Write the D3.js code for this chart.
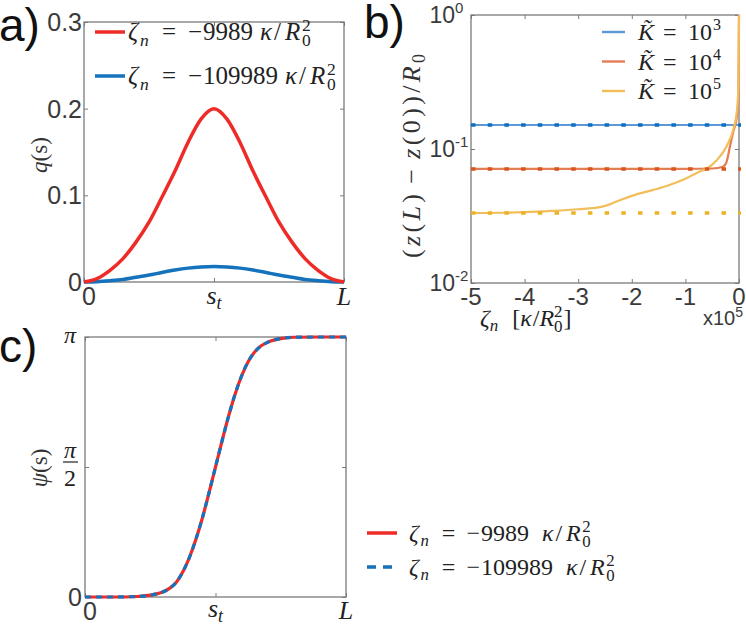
<!DOCTYPE html>
<html><head><meta charset="utf-8">
<script src="https://cdn.jsdelivr.net/npm/d3@7"></script>
<style>
body{margin:0;background:#fff} svg{display:block}
.sans{font-family:'Liberation Sans',Arial,sans-serif}
.serif{font-family:'Liberation Serif','Times New Roman',serif}
</style>
</head><body>
<svg id="c" width="746" height="625"></svg>
<script>
// ---------- data ----------
// panel a: q(s) on s in [0, L] (L = 1, s_t = 0.5)
const sGrid = [0,0.05,0.1,0.15,0.2,0.25,0.3,0.35,0.4,0.45,0.5,0.55,0.6,0.65,0.7,0.75,0.8,0.85,0.9,0.95,1];
const qRed  = [0,0.004,0.0135,0.027,0.046,0.069,0.098,0.128,0.161,0.188,0.2,0.188,0.161,0.128,0.098,0.069,0.046,0.027,0.0135,0.004,0];
const qBlue = [0,0.0004,0.0015,0.003,0.0055,0.008,0.011,0.0138,0.016,0.0174,0.018,0.0174,0.016,0.0138,0.011,0.008,0.0055,0.003,0.0015,0.0004,0];
const aYTicks = [0,0.1,0.2,0.3];
const aYLabels = ["0","0.1","0.2","0.3"];
const sTicks = [0,0.5,1];

// panel c: psi(s) / pi
const psiS   = [0,0.1,0.2,0.25,0.275,0.3,0.325,0.35,0.375,0.4,0.425,0.45,0.475,0.5,0.525,0.55,0.575,0.6,0.625,0.65,0.675,0.7,0.75,0.8,0.9,1];
const psiVal = [0,0,0.002,0.007,0.012,0.02,0.034,0.057,0.097,0.152,0.222,0.305,0.4,0.5,0.6,0.695,0.78,0.85,0.905,0.942,0.966,0.98,0.994,0.999,1,1];
const cYTicks = [0,0.5,1];

// panel b: (z(L)-z(0))/R0 vs zeta_n (x1e5)
const bXTicks = [-5,-4,-3,-2,-1,0];
const bYTicks = [0.01,0.1,1];
const bYExp = ["-2","-1","0"];
const kNames = ["3","4","5"];
const kLimit = [0.151,0.071,0.0333];
const k3X = [-5,0];
const k3Y = [0.151,0.151];
const k4X = [-5,-1,-0.5,-0.3,-0.23,-0.17,-0.106,-0.04,-0.01,0];
const k4Y = [0.071,0.071,0.0715,0.0738,0.0806,0.104,0.135,0.174,0.25,1];
const k5X = [-5,-4,-3.5,-3,-2.6,-2.4,-2.2,-2,-1.6,-1.35,-1,-0.73,-0.6,-0.42,-0.23,-0.106,-0.04,-0.01,0];
const k5Y = [0.0333,0.0338,0.0345,0.0355,0.0368,0.0388,0.0418,0.0447,0.0495,0.053,0.06,0.068,0.0715,0.082,0.105,0.14,0.19,0.3,1];

// ---------- helpers ----------
const svg = d3.select("#c");
const AX = "#7a7a7a", TXT = "#3a3a3a";

function frame(x, y) {
  const g = svg.append("g");
  const [x0,x1] = x.range(), [y0,y1] = y.range();
  const tick = (axis, tr) => {
    const a = g.append("g").attr("transform", tr).call(axis);
    a.select(".domain").remove();
    a.selectAll("line").attr("stroke", AX).attr("stroke-width", 1);
    a.selectAll("text").remove();
  };
  return {g, tick, box: () => g.append("rect").attr("x",x0).attr("y",y1).attr("width",x1-x0).attr("height",y0-y1)
    .attr("fill","none").attr("stroke",AX).attr("stroke-width",1.3)};
}
function sansText(x, y, s, size, anchor) {
  return svg.append("text").attr("class","sans").attr("x",x).attr("y",y).attr("font-size",size)
    .attr("fill",TXT).attr("text-anchor",anchor||"middle").text(s);
}
function zetaLegend(x0, y, num, size, gap) {
  const k = size/25, sm = size*0.7;
  const t = svg.append("text").attr("class","serif").attr("y",y).attr("font-size",size).attr("fill","#222");
  t.append("tspan").attr("x",x0).attr("font-style","italic").text("ζ");
  t.append("tspan").attr("x",x0+12*k).attr("font-style","italic").attr("font-size",sm).attr("dy",size*0.22).text("n");
  t.append("tspan").attr("x",x0+34*k).attr("dy",-size*0.22).text("=");
  t.append("tspan").attr("x",x0+60*k).text("−");
  t.append("tspan").attr("x",x0+75*k).text(num);
  const dEnd = x0 + 75*k + num.length*0.5*size;
  const kx = dEnd + gap;
  t.append("tspan").attr("x",kx).attr("font-style","italic").text("κ");
  t.append("tspan").attr("x",kx+14*k).text("/");
  t.append("tspan").attr("x",kx+25*k).attr("font-style","italic").text("R");
  t.append("tspan").attr("x",kx+42*k).attr("font-size",sm).attr("dy",size*0.25).text("0");
  t.append("tspan").attr("x",kx+42*k).attr("font-size",sm).attr("dy",-size*0.62).text("2");
  return t;
}
function sLabel(x, y) {
  const t = svg.append("text").attr("class","serif").attr("x",x).attr("y",y).attr("font-size",26)
    .attr("fill","#222").attr("text-anchor","middle");
  t.append("tspan").attr("font-style","italic").text("s");
  t.append("tspan").attr("font-style","italic").attr("font-size",18).attr("dy",5).text("t");
}
function italicL(x, y) {
  svg.append("text").attr("class","serif").attr("x",x).attr("y",y).attr("font-size",26)
    .attr("fill","#222").attr("text-anchor","middle").attr("font-style","italic").text("L");
}

// ---------- panel a ----------
{
  const x = d3.scaleLinear().domain([0,1]).range([84,344]);
  const y = d3.scaleLinear().domain([0,0.3]).range([282,22]);
  const f = frame(x, y);
  f.tick(d3.axisBottom(x).tickValues(sTicks).tickSize(-4), `translate(0,282)`);
  f.tick(d3.axisTop(x).tickValues(sTicks).tickSize(-4), `translate(0,22)`);
  f.tick(d3.axisLeft(y).tickValues(aYTicks).tickSize(-4), `translate(84,0)`);
  f.tick(d3.axisRight(y).tickValues(aYTicks).tickSize(-4), `translate(344,0)`);
  f.box();
  const line = d3.line().x((d,i)=>x(sGrid[i])).y(d=>y(d)).curve(d3.curveMonotoneX);
  svg.append("path").attr("d", line(qBlue)).attr("fill","none").attr("stroke","#1572bc").attr("stroke-width",3.5);
  svg.append("path").attr("d", line(qRed)).attr("fill","none").attr("stroke","#ee2b27").attr("stroke-width",3.5);
  aYTicks.forEach((v,i)=> sansText(82, y(v)+9, aYLabels[i], 25, "end"));
  sansText(x(0)+5, 305, "0", 25);
  sLabel(x(0.5), 304);
  italicL(x(1), 305);
  // legend
  [["#ee2b27","9989",32],["#1572bc","109989",76]].forEach(([c,n,yy])=>{
    svg.append("line").attr("x1",95).attr("x2",125).attr("y1",yy).attr("y2",yy).attr("stroke",c).attr("stroke-width",3.5);
    zetaLegend(128, yy+8, n, 25, 7);
  });
  // y label
  const t = svg.append("text").attr("class","serif").attr("transform","translate(47,155) rotate(-90)").attr("text-anchor","middle")
    .attr("font-size",23).attr("fill","#333");
  t.append("tspan").attr("font-style","italic").text("q");
  t.append("tspan").text("(s)");
  svg.append("text").attr("class","sans").attr("x",-1).attr("y",41).attr("font-size",46).attr("fill","#111").text("a)");
}

// ---------- panel b ----------
{
  const x = d3.scaleLinear().domain([-5,0]).range([471,739]);
  const y = d3.scaleLog().domain([0.01,1]).range([283,15]);
  const f = frame(x, y);
  f.tick(d3.axisBottom(x).tickValues(bXTicks).tickSize(-4), `translate(0,283)`);
  f.tick(d3.axisTop(x).tickValues(bXTicks).tickSize(-4), `translate(0,15)`);
  f.tick(d3.axisLeft(y).tickValues(bYTicks).tickSize(-4), `translate(471,0)`);
  f.tick(d3.axisRight(y).tickValues(bYTicks).tickSize(-4), `translate(739,0)`);
  f.box();
  const solid = ["#5e97d6","#e57d52","#f2be5a"];
  const dots  = ["#0b6fc0","#d9541e","#edb224"];
  const series = [[k3X,k3Y],[k4X,k4Y],[k5X,k5Y]];
  const line = d3.line().x(d=>x(d[0])).y(d=>y(d[1])).curve(d3.curveMonotoneX);
  series.forEach(([xs,ys],i)=>{
    svg.append("path").attr("d", line(xs.map((v,j)=>[v,ys[j]]))).attr("fill","none")
      .attr("stroke",solid[i]).attr("stroke-width",2.2);
  });
  kLimit.forEach((v,i)=>{
    svg.append("line").attr("x1",x(-5)).attr("x2",x(0)+2).attr("y1",y(v)).attr("y2",y(v))
      .attr("stroke",dots[i]).attr("stroke-width",3.4).attr("stroke-dasharray","4.5,12.2");
  });
  // tick labels
  bYTicks.forEach((v,i)=>{
    const yy = i===2 ? 23 : y(v)+8;
    svg.append("text").attr("class","sans").attr("x",455).attr("y",yy).attr("font-size",23)
      .attr("fill",TXT).attr("text-anchor","end").text("10");
    svg.append("text").attr("class","sans").attr("x",455).attr("y",yy-10).attr("font-size",15)
      .attr("fill",TXT).text(bYExp[i]);
  });
  bXTicks.forEach(v=> sansText(x(v), 305, String(v), 24));
  const ex = svg.append("text").attr("class","sans").attr("x",703).attr("y",325).attr("font-size",20).attr("fill",TXT).text("x10");
  ex.append("tspan").attr("font-size",14).attr("dy",-8).text("5");
  // x label
  const xl = svg.append("text").attr("class","serif").attr("x",480).attr("y",326).attr("font-size",24).attr("fill","#222");
  xl.append("tspan").attr("font-style","italic").text("ζ");
  xl.append("tspan").attr("font-style","italic").attr("font-size",17).attr("dy",5).text("n");
  xl.append("tspan").attr("dy",-5).attr("dx",14).text("[");
  xl.append("tspan").attr("font-style","italic").text("κ");
  xl.append("tspan").attr("dx",1).text("/");
  xl.append("tspan").attr("font-style","italic").text("R");
  xl.append("tspan").attr("font-size",17).attr("dy",6).text("0");
  xl.append("tspan").attr("font-size",17).attr("dx",-8.5).attr("dy",-15).text("2");
  xl.append("tspan").attr("dy",9).attr("dx",1).text("]");
  // y label
  const yl = svg.append("text").attr("class","serif").attr("transform","translate(420,156) rotate(-90)").attr("text-anchor","middle")
    .attr("font-size",26).attr("fill","#333").attr("textLength",204).attr("lengthAdjust","spacing");
  yl.append("tspan").text("(");
  yl.append("tspan").attr("font-style","italic").text("z");
  yl.append("tspan").text("(");
  yl.append("tspan").attr("font-style","italic").text("L");
  yl.append("tspan").text(")");
  yl.append("tspan").attr("dx",7).text("−");
  yl.append("tspan").attr("dx",7).attr("font-style","italic").text("z");
  yl.append("tspan").text("(0))/");
  yl.append("tspan").attr("font-style","italic").text("R");
  yl.append("tspan").attr("font-size",18).attr("dy",5).text("0");
  // legend
  kNames.forEach((k,i)=>{
    const yy = 32 + i*29.5;
    svg.append("line").attr("x1",602).attr("x2",625).attr("y1",yy).attr("y2",yy).attr("stroke",solid[i]).attr("stroke-width",2.4);
    const t = svg.append("text").attr("class","serif").attr("y",yy+8).attr("font-size",24).attr("fill","#222");
    t.append("tspan").attr("x",638).attr("font-style","italic").text("K\u0303");
    t.append("tspan").attr("x",663).text("=");
    t.append("tspan").attr("x",688).text("10");
    t.append("tspan").attr("x",713).attr("font-size",16).attr("dy",-10).text(k);
  });
  svg.append("text").attr("class","sans").attr("x",364).attr("y",38).attr("font-size",46).attr("fill","#111").text("b)");
}

// ---------- panel c ----------
{
  const x = d3.scaleLinear().domain([0,1]).range([85,346]);
  const y = d3.scaleLinear().domain([0,1]).range([597,337]);
  const f = frame(x, y);
  f.tick(d3.axisBottom(x).tickValues(sTicks).tickSize(-4), `translate(0,597)`);
  f.tick(d3.axisTop(x).tickValues(sTicks).tickSize(-4), `translate(0,337)`);
  f.tick(d3.axisLeft(y).tickValues(cYTicks).tickSize(-4), `translate(85,0)`);
  f.tick(d3.axisRight(y).tickValues(cYTicks).tickSize(-4), `translate(346,0)`);
  f.box();
  const line = d3.line().x((d,i)=>x(psiS[i])).y(d=>y(d)).curve(d3.curveMonotoneX);
  svg.append("path").attr("d", line(psiVal)).attr("fill","none").attr("stroke","#ee2b27").attr("stroke-width",3.2);
  svg.append("path").attr("d", line(psiVal)).attr("fill","none").attr("stroke","#1572bc").attr("stroke-width",3.2)
    .attr("stroke-dasharray","6,5");
  // y tick labels
  svg.append("text").attr("class","serif").attr("x",70).attr("y",y(1)+6).attr("font-size",24).attr("fill","#222")
    .attr("text-anchor","middle").attr("font-style","italic").text("π");
  svg.append("text").attr("class","serif").attr("x",70).attr("y",y(0.5)-9).attr("font-size",24).attr("fill","#222")
    .attr("text-anchor","middle").attr("font-style","italic").text("π");
  svg.append("line").attr("x1",63).attr("x2",78).attr("y1",y(0.5)-5).attr("y2",y(0.5)-5).attr("stroke","#222").attr("stroke-width",1.2);
  svg.append("text").attr("class","serif").attr("x",70).attr("y",y(0.5)+19).attr("font-size",24).attr("fill","#222")
    .attr("text-anchor","middle").text("2");
  sansText(82, y(0)+9, "0", 25, "end");
  sansText(x(0)+5, 620, "0", 25);
  sLabel(x(0.5), 617);
  italicL(x(1), 619);
  // y label
  const t = svg.append("text").attr("class","serif").attr("transform","translate(47,468) rotate(-90)").attr("text-anchor","middle")
    .attr("font-size",23).attr("fill","#333");
  t.append("tspan").attr("font-style","italic").text("ψ");
  t.append("tspan").text("(s)");
  svg.append("text").attr("class","sans").attr("x",-1).attr("y",362).attr("font-size",46).attr("fill","#111").text("c)");
  // legend
  svg.append("line").attr("x1",367).attr("x2",397).attr("y1",533).attr("y2",533).attr("stroke","#ee2b27").attr("stroke-width",3.5);
  svg.append("line").attr("x1",367).attr("x2",397).attr("y1",567).attr("y2",567).attr("stroke","#1572bc").attr("stroke-width",3.5)
    .attr("stroke-dasharray","9,7");
  zetaLegend(409, 541, "9989", 24, 13);
  zetaLegend(409, 575, "109989", 24, 13);
}
</script>
</body></html>
